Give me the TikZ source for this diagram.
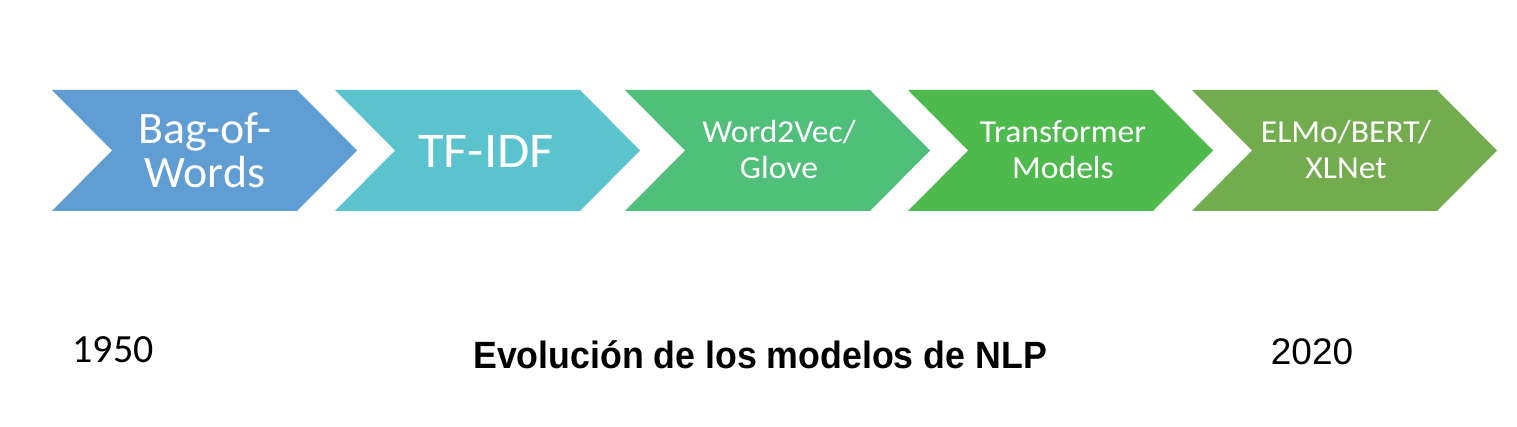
\documentclass[tikz,border=0pt]{standalone}
\usepackage{fontspec}
\setmainfont{Carlito}
\newfontfamily\chevf[FakeStretch=1.05]{Carlito}
\newfontfamily\bagf[FakeStretch=1.02]{Carlito}
\newfontfamily\arialf{Liberation Sans}
\newfontfamily\titlef[FakeStretch=0.94]{Liberation Sans}
\definecolor{cBlue}{HTML}{5F9DD3}
\definecolor{cTeal}{HTML}{5BC3CE}
\definecolor{cGreenA}{HTML}{50BF7A}
\definecolor{cGreenB}{HTML}{4EB94D}
\definecolor{cOlive}{HTML}{72AC4E}
\tikzset{
  chevlabel/.style={text=white, align=center, inner sep=0pt},
}
\newcommand{\chev}[2]{%
  \fill[#2] (#1,90) -- ++(245,0) -- ++(60,60.5) -- ++(-60,60.5) -- ++(-245,0) -- ++(60,-60.5) -- cycle;}
\begin{document}
\begin{tikzpicture}[x=1pt,y=-1pt]
\fill[white] (0,0) rectangle (1517,427);
\useasboundingbox (0,0) rectangle (1517,427);
\chev{52}{cBlue}
\chev{335}{cTeal}
\chev{625}{cGreenA}
\chev{908}{cGreenB}
\chev{1192}{cOlive}
\node[chevlabel, font=\bagf\fontsize{45}{44}\selectfont] (bow) at (205,150.5) {Bag-of-\\Words};
\node[chevlabel, font=\chevf\fontsize{50}{50}\selectfont] (tfidf) at (486,151) {TF-IDF};
\node[chevlabel, font=\chevf\fontsize{32}{36}\selectfont] (w2v) at (779,150) {Word2Vec/\\Glove};
\node[chevlabel, font=\chevf\fontsize{32}{36}\selectfont] (trf) at (1063,150) {Transformer\\Models};
\node[chevlabel, font=\chevf\fontsize{32}{36}\selectfont] (elmo) at (1346,150) {ELMo/BERT/\\XLNet};
\node[anchor=base, inner sep=0pt, font=\fontsize{40}{40}\selectfont] (y1950) at (113,362) {1950};
\node[anchor=base, inner sep=0pt, font=\arialf\fontsize{37}{37}\selectfont] (y2020) at (1312,364) {2020};
\node[anchor=base, inner sep=0pt, font=\titlef\bfseries\fontsize{38}{38}\selectfont] (title) at (760,368) {Evolución de los modelos de NLP};
\end{tikzpicture}
\end{document}
